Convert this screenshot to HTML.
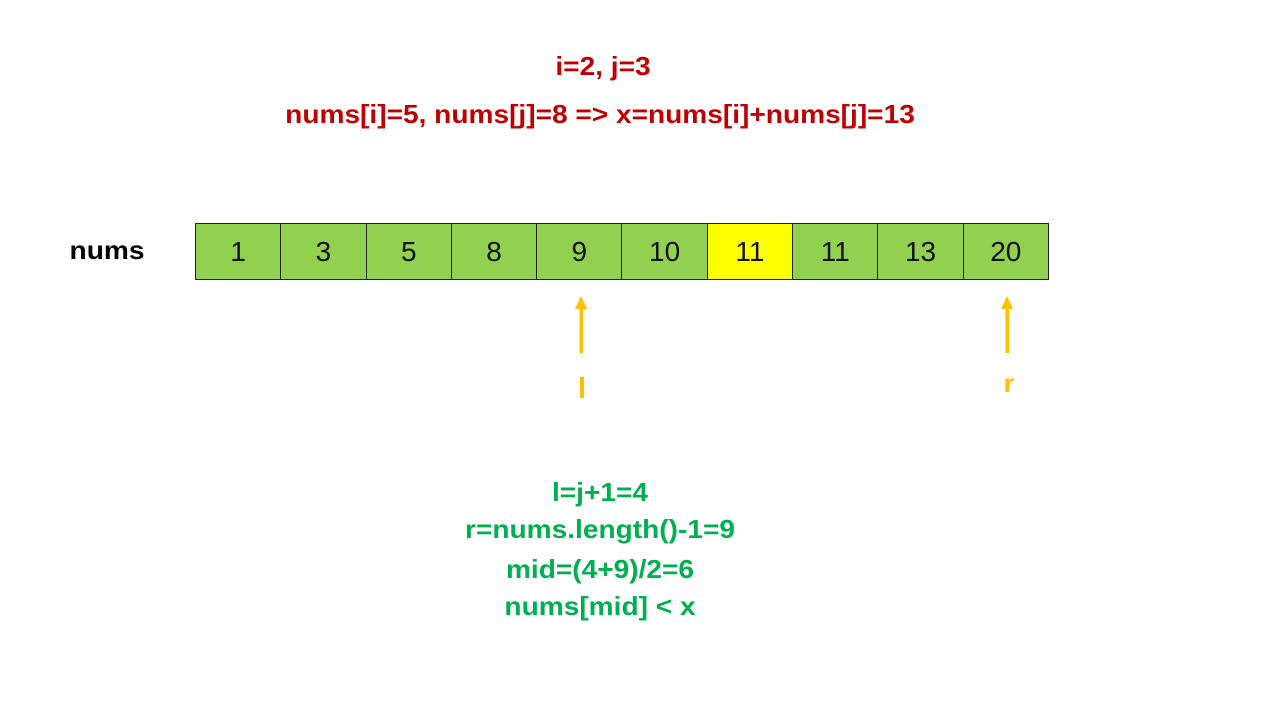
<!DOCTYPE html>
<html><head><style>
body{margin:0;width:1280px;height:720px;background:#fff;position:relative;font-family:"Liberation Sans",sans-serif;overflow:hidden}
.t{position:absolute;font-weight:bold;white-space:nowrap;transform:translateX(-50%) scaleX(1.08)}
.red{color:#C00000;font-size:26px}
.grn{color:#00B050;font-size:26px}
.row{position:absolute;left:195px;top:223px;display:flex;border-top:1px solid #222;border-bottom:1px solid #222;border-left:1px solid #222}
.c{width:84.3px;height:55px;background:#92D050;border-right:1px solid #222;font-size:28px;text-align:center;line-height:56px;color:#111}
</style></head><body>
<div class="t red" style="left:603px;top:51px">i=2, j=3</div>
<div class="t red" style="left:600px;top:99px">nums[i]=5, nums[j]=8 =&gt; x=nums[i]+nums[j]=13</div>
<div class="t" style="left:107px;top:235px;font-size:26px;color:#000">nums</div>
<div class="row">
<div class="c">1</div><div class="c">3</div><div class="c">5</div><div class="c">8</div><div class="c">9</div><div class="c">10</div><div class="c" style="background:#FFFF00">11</div><div class="c">11</div><div class="c">13</div><div class="c">20</div>
</div>
<svg style="position:absolute;left:0;top:0" width="1280" height="720">
<polygon points="581,296 575,309 587,309" fill="#FFC000"/>
<rect x="579.5" y="306" width="3.5" height="47" fill="#FFC000"/>
<polygon points="1007,296 1001,309 1013,309" fill="#FFC000"/>
<rect x="1005.5" y="306" width="3.5" height="47" fill="#FFC000"/>
<rect x="580" y="377" width="4" height="21" fill="#FFC000"/>
</svg>
<div class="t" style="left:1009px;top:368px;font-size:26px;color:#FFC000">r</div>
<div class="t grn" style="left:600px;top:477px">l=j+1=4</div>
<div class="t grn" style="left:600px;top:514px">r=nums.length()-1=9</div>
<div class="t grn" style="left:600px;top:554px">mid=(4+9)/2=6</div>
<div class="t grn" style="left:600px;top:591px">nums[mid] &lt; x</div>
</body></html>
